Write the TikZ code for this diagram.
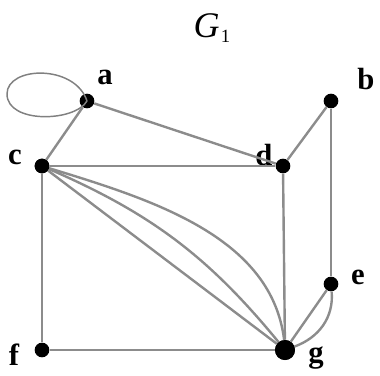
\documentclass[tikz,border=0pt]{standalone}
\usepackage{fontspec}
\setmainfont{Liberation Serif}
\begin{document}
\begin{tikzpicture}[x=0.75pt,y=-0.75pt,
  vert/.style={circle,fill=black,inner sep=0pt,minimum size=11pt},
  big/.style={circle,fill=black,inner sep=0pt,minimum size=15pt},
  lbl/.style={font=\fontsize{23}{25}\selectfont\bfseries,inner sep=0pt},
  edge/.style={draw=black!45,line width=1.8pt},
  thin/.style={draw=black!50,line width=1.1pt}]
\useasboundingbox (0,0) rectangle (380,376);
\node (G) at (212,28) {\fontsize{27}{29}\selectfont\itshape G\kern1pt\raisebox{-0.35ex}{\upshape\fontsize{14}{14}\selectfont 1}};
\node[vert] (a) at (87,101) {};
\node[vert] (b) at (331,101) {};
\node[vert] (c) at (42,166) {};
\node[vert] (d) at (283,166) {};
\node[vert] (e) at (331,284) {};
\node[vert] (f) at (42,350) {};
\node[big] (g) at (285,350) {};
\node[lbl] (la) at (105,77) {a};
\node[lbl] (lb) at (366,79) {b};
\node[lbl] (lc) at (15,157) {c};
\node[lbl] (ld) at (264,155) {d};
\node[lbl] (le) at (358,277) {e};
\node[lbl] (lf) at (14,355) {f};
\node[lbl] (lg) at (316,358) {g};
\draw[thin] (a.center) .. controls (75,64) and (7,66) .. (7,94) .. controls (7,124) and (75,122) .. (a.center);
\draw[edge] (a) -- (c);
\draw[edge] (a) -- (d);
\draw[edge] (c) -- (d);
\draw[edge] (b) -- (d);
\draw[edge] (b) -- (e);
\draw[edge] (c) -- (f);
\draw[edge] (f) -- (g);
\draw[edge] (d) -- (g);
\draw[edge] (e) -- (g);
\draw[edge] (e) to[out=-85,in=20] (g);
\draw[edge] (c) -- (g);
\draw[edge] (c.center) to[bend left=14] (g.center);
\draw[edge] (c.center) to[out=-17,in=93,looseness=0.95] (g.center);
\node[vert] at (c) {};
\node[big] at (g) {};
\end{tikzpicture}
\end{document}
